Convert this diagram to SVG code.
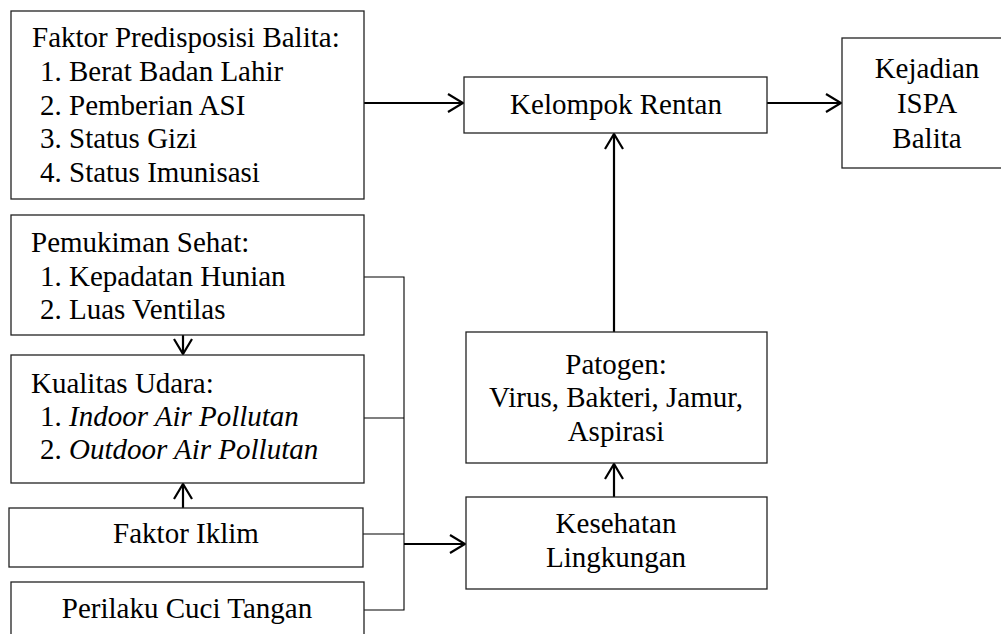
<svg xmlns="http://www.w3.org/2000/svg" width="1001" height="634" viewBox="0 0 1001 634">
<style>
.box{fill:#fff;stroke:#222;stroke-width:1.3}
text{font-family:"Liberation Serif","Times New Roman",serif;font-size:29px;fill:#000}
.c{text-anchor:middle}
.i{font-style:italic}
.arr{fill:none;stroke:#000;stroke-width:2.2;marker-end:url(#ah)}
.br{fill:none;stroke:#000;stroke-width:1.1}
</style>
<defs>
<marker id="ah" markerUnits="userSpaceOnUse" viewBox="-16 -10 18 20" refX="0" refY="0" markerWidth="18" markerHeight="20" orient="auto">
<path d="M-15,-9 L0,0 L-15,9" fill="none" stroke="#000" stroke-width="2.2"/>
</marker>
</defs>
<rect width="1001" height="634" fill="#fff"/>
<g id="connectors">
<line class="arr" x1="364" y1="103" x2="463" y2="103"/>
<line class="arr" x1="767" y1="103" x2="841" y2="103"/>
<line class="arr" x1="614" y1="332" x2="614" y2="134"/>
<line class="arr" x1="614" y1="497" x2="614" y2="464"/>
<line class="arr" x1="183" y1="335" x2="183" y2="354"/>
<line class="arr" x1="183" y1="508" x2="183" y2="484"/>
<polyline class="br" points="364,277 404,277 404,610 364,610"/>
<line class="br" x1="364" y1="418" x2="404" y2="418"/>
<line class="br" x1="363" y1="534" x2="404" y2="534"/>
<line class="arr" x1="404" y1="544" x2="465" y2="544"/>
</g>
<g id="faktor-predisposisi">
<rect class="box" x="11" y="11" width="353" height="188"/>
<text x="32" y="47">Faktor Predisposisi Balita:</text>
<text x="40" y="81">1. Berat Badan Lahir</text>
<text x="40" y="115">2. Pemberian ASI</text>
<text x="40" y="148">3. Status Gizi</text>
<text x="40" y="182">4. Status Imunisasi</text>
</g>
<g id="pemukiman-sehat">
<rect class="box" x="11" y="215" width="353" height="120"/>
<text x="31" y="252">Pemukiman Sehat:</text>
<text x="40" y="286">1. Kepadatan Hunian</text>
<text x="40" y="319">2. Luas Ventilas</text>
</g>
<g id="kualitas-udara">
<rect class="box" x="11" y="355" width="353" height="128"/>
<text x="31" y="393">Kualitas Udara:</text>
<text x="40" y="426">1. <tspan class="i">Indoor Air Pollutan</tspan></text>
<text x="40" y="459">2. <tspan class="i">Outdoor Air Pollutan</tspan></text>
</g>
<g id="faktor-iklim">
<rect class="box" x="9" y="508" width="354" height="59"/>
<text class="c" x="186" y="543">Faktor Iklim</text>
</g>
<g id="perilaku-cuci-tangan">
<rect class="box" x="11" y="582" width="353" height="70"/>
<text class="c" x="187" y="618">Perilaku Cuci Tangan</text>
</g>
<g id="kelompok-rentan">
<rect class="box" x="464" y="77" width="303" height="56"/>
<text class="c" x="616" y="114">Kelompok Rentan</text>
</g>
<g id="kejadian-ispa">
<rect class="box" x="842" y="38" width="172" height="130"/>
<text class="c" x="927" y="78">Kejadian</text>
<text class="c" x="927" y="113">ISPA</text>
<text class="c" x="927" y="148">Balita</text>
</g>
<g id="patogen">
<rect class="box" x="466" y="332" width="301" height="131"/>
<text class="c" x="616" y="374">Patogen:</text>
<text class="c" x="616" y="407">Virus, Bakteri, Jamur,</text>
<text class="c" x="616" y="441">Aspirasi</text>
</g>
<g id="kesehatan-lingkungan">
<rect class="box" x="466" y="497" width="301" height="92"/>
<text class="c" x="616" y="533">Kesehatan</text>
<text class="c" x="616" y="567">Lingkungan</text>
</g>
</svg>
